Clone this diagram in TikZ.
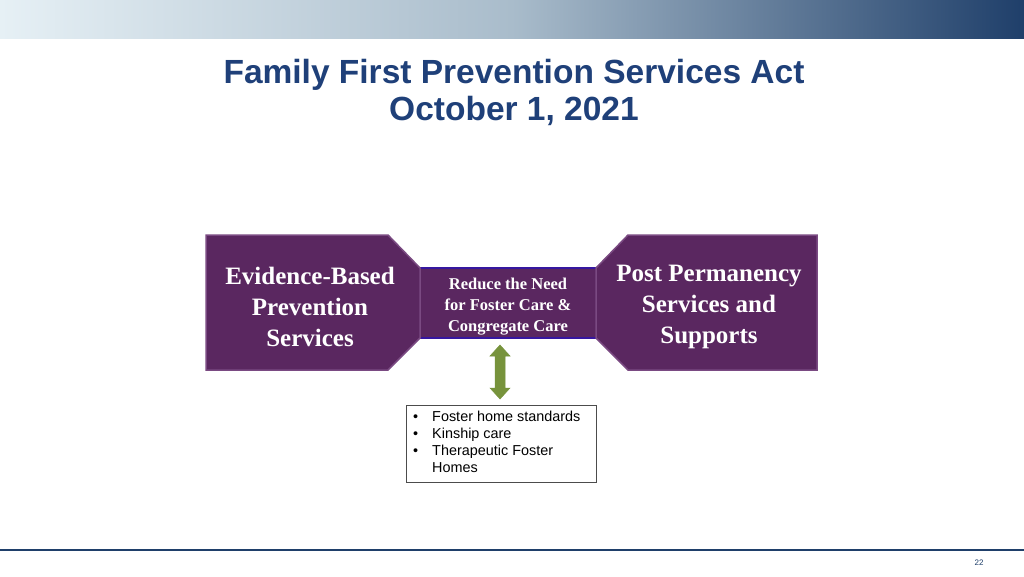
\documentclass[tikz,border=0pt]{standalone}
\usepackage{fontspec}
\setmainfont{Liberation Serif}
\setsansfont{Liberation Sans}
\usetikzlibrary{arrows.meta,shapes.arrows}
\definecolor{navy}{HTML}{1F3F6A}
\definecolor{tnavy}{HTML}{1F4079}
\definecolor{purp}{HTML}{5A2760}
\definecolor{pedge}{HTML}{7A4A82}
\definecolor{grn}{HTML}{77933C}
\definecolor{lite}{HTML}{E6F0F5}
\definecolor{midb}{HTML}{A9BCCB}
\tikzset{
  shp/.style={fill=purp,draw=pedge,line width=1.5pt},
  big/.style={text=white,font=\bfseries\fontsize{25}{31}\selectfont,align=center},
  small/.style={text=white,font=\bfseries\fontsize{16.5}{21}\selectfont,align=center},
}
\begin{document}
\begin{tikzpicture}[x=1pt,y=-1pt]
\useasboundingbox (0,0) rectangle (1024,576);
\fill[white] (0,0) rectangle (1024,576);
\shade[left color=lite, right color=midb] (0,0) rectangle (512,38);
\shade[left color=midb, right color=navy] (512,0) rectangle (1024,38);
\draw[navy,line width=1.2pt] (0,550) -- (1024,550);
\node[font=\sffamily\fontsize{8}{10}\selectfont,text=navy] (pg) at (979,563) {22};
\node[font=\sffamily\bfseries\fontsize{33.5}{37}\selectfont,text=tnavy,align=center] (title) at (514,92) {Family First Prevention Services Act\\October 1, 2021};
\draw[fill=purp,draw=blue!40!purp,line width=2pt] (418,268) rectangle (598,338);
\draw[shp] (206,235) -- (388,235) -- (420,268) -- (420,338) -- (388,370) -- (206,370) -- cycle;
\draw[shp] (628,235) -- (817,235) -- (817,370) -- (628,370) -- (596,338) -- (596,268) -- cycle;
\node[big] (left) at (310,307) {Evidence-Based\\Prevention\\Services};
\node[big] (right) at (709,307) {Post Permanency\\Services and\\Supports};
\node[small] (mid) at (508,307) {Reduce the Need\\for Foster Care \&\\Congregate Care};
\node[draw=black!70,line width=0.6pt,minimum width=190pt,minimum height=77pt,inner sep=0pt] (box) at (501,443.5) {};
\node[font=\sffamily\fontsize{14.4}{17}\selectfont,align=left,anchor=north west,inner sep=0pt] (list) at (413,411) {%
\textbullet\hspace{14pt}Foster home standards\\
\textbullet\hspace{14pt}Kinship care\\
\textbullet\hspace{14pt}Therapeutic Foster\\
\phantom{\textbullet}\hspace{14pt}Homes};
\draw[grn,fill=grn,line width=0.5pt] (495,356) -- (495,388) -- (490,388) -- (500,399) -- (510,388) -- (505,388) -- (505,356) -- (510,356) -- (500,345) -- (490,356) -- cycle;
\end{tikzpicture}
\end{document}
